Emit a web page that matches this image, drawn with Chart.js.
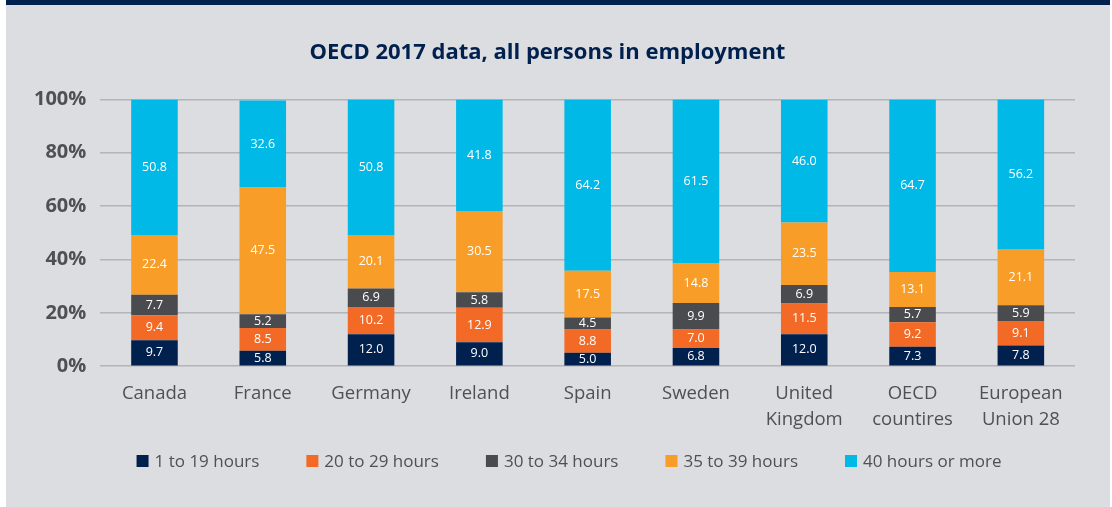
<!DOCTYPE html>
<html>
<head>
<meta charset="utf-8">
<script src="https://cdn.jsdelivr.net/npm/chart.js@4/dist/chart.umd.min.js"></script>
<style>
  html, body { margin: 0; padding: 0; background: #ffffff; }
  #frame {
    position: absolute; left: 6px; top: 0; width: 1104px; height: 502px;
    background: #dcdde0; border-top: 5px solid #00204e;
  }
  #wrap { position: relative; width: 1104px; height: 502px; }
</style>
</head>
<body>
<div id="frame"><div id="wrap"><canvas id="hoursChart"></canvas></div></div>
<script>
const countries = [
  "Canada", "France", "Germany", "Ireland", "Spain", "Sweden",
  ["United", "Kingdom"], ["OECD", "countires"], ["European", "Union 28"]
];
const hours1to19 = [9.7, 5.8, 12.0, 9.0, 5.0, 6.8, 12.0, 7.3, 7.8];
const hours20to29 = [9.4, 8.5, 10.2, 12.9, 8.8, 7.0, 11.5, 9.2, 9.1];
const hours30to34 = [7.7, 5.2, 6.9, 5.8, 4.5, 9.9, 6.9, 5.7, 5.9];
const hours35to39 = [22.4, 47.5, 20.1, 30.5, 17.5, 14.8, 23.5, 13.1, 21.1];
const hours40plus = [50.8, 32.6, 50.8, 41.8, 64.2, 61.5, 46.0, 64.7, 56.2];
const yTicks = [0, 20, 40, 60, 80, 100];

document.addEventListener("DOMContentLoaded", function () {
  const fontFamily = "'Open Sans', sans-serif";
  const textGray = "#505054";

  // writes each segment's value in the middle of it
  const valueLabels = {
    id: "valueLabels",
    afterDatasetsDraw(chart) {
      const ctx = chart.ctx;
      ctx.save();
      ctx.font = "12.5px " + fontFamily;
      ctx.fillStyle = "#ffffff";
      ctx.textAlign = "center";
      ctx.textBaseline = "middle";
      chart.data.datasets.forEach((ds, i) => {
        chart.getDatasetMeta(i).data.forEach((bar, j) => {
          const mid = (bar.y + bar.base) / 2;
          ctx.fillText(ds.data[j].toFixed(1), bar.x, mid);
        });
      });
      ctx.restore();
    },
  };

  // legend row under the axis, spaced like the original
  const bottomLegend = {
    id: "bottomLegend",
    afterDraw(chart) {
      const ctx = chart.ctx;
      const box = 12, gapText = 6, gapItem = 47, y = 456;
      ctx.save();
      ctx.font = "17px " + fontFamily;
      ctx.textBaseline = "middle";
      const items = chart.data.datasets.map((ds) => ({
        text: ds.label,
        color: ds.backgroundColor,
        w: box + gapText + ctx.measureText(ds.label).width,
      }));
      const total = items.reduce((s, it) => s + it.w, 0) + gapItem * (items.length - 1);
      let x = chart.width / 2 + 11 - total / 2;
      items.forEach((it) => {
        ctx.fillStyle = it.color;
        ctx.fillRect(x, y - box / 2, box, box);
        ctx.fillStyle = textGray;
        ctx.fillText(it.text, x + box + gapText, y + 1);
        x += it.w + gapItem;
      });
      ctx.restore();
    },
  };

  function makeSet(label, data, color) {
    return {
      label: label,
      data: data,
      backgroundColor: color,
      borderWidth: 0,
      barPercentage: 0.43,
      categoryPercentage: 1,
    };
  }

  new Chart(document.getElementById("hoursChart"), {
    type: "bar",
    data: {
      labels: countries,
      datasets: [
        makeSet("1 to 19 hours", hours1to19, "#00204e"),
        makeSet("20 to 29 hours", hours20to29, "#f26a25"),
        makeSet("30 to 34 hours", hours30to34, "#4a4b4e"),
        makeSet("35 to 39 hours", hours35to39, "#f79d28"),
        makeSet("40 hours or more", hours40plus, "#00b9e7"),
      ],
    },
    plugins: [valueLabels, bottomLegend],
    options: {
      responsive: true,
      maintainAspectRatio: false,
      animation: false,
      layout: { padding: { left: 14, right: 35, top: 0, bottom: 67 } },
      plugins: {
        title: {
          display: true,
          text: "OECD 2017 data, all persons in employment",
          color: "#00204e",
          font: { family: fontFamily, size: 22, weight: "bold" },
          padding: { top: 35, bottom: 33 },
        },
        legend: { display: false },
        tooltip: { enabled: false },
      },
      scales: {
        x: {
          stacked: true,
          grid: { display: false },
          border: { display: false },
          ticks: {
            color: textGray,
            font: { family: fontFamily, size: 18.5, lineHeight: 1.4 },
            maxRotation: 0,
            padding: 7,
          },
        },
        y: {
          stacked: true,
          min: 0,
          max: 100,
          afterBuildTicks: (axis) => {
            axis.ticks = yTicks.map((v) => ({ value: v }));
          },
          grid: { color: "#b3b4b7", lineWidth: 1.5, drawTicks: false },
          border: { display: false },
          ticks: {
            color: textGray,
            font: { family: fontFamily, size: 20, weight: "bold" },
            padding: 14,
            callback: (v) => v + "%",
          },
        },
      },
    },
  });
});
</script>
</body>
</html>
